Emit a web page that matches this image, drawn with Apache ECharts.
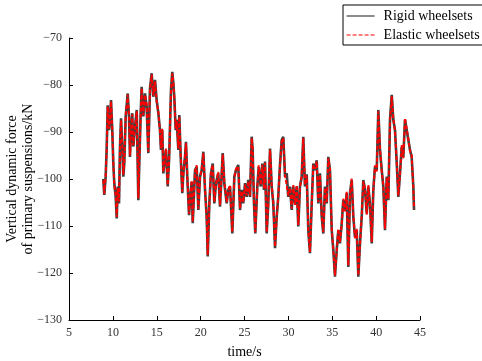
<!DOCTYPE html>
<html>
<head>
<meta charset="utf-8">
<script src="https://cdn.jsdelivr.net/npm/echarts@6/dist/echarts.min.js"></script>
<style>html,body{margin:0;padding:0;background:#fff}#c{width:482px;height:361px}</style>
</head>
<body>
<div id="c"></div>
<script>
const seriesNames = ["Rigid wheelsets", "Elastic wheelsets"];
const xTicks = [5, 10, 15, 20, 25, 30, 35, 40, 45];
const yTicks = [-130, -120, -110, -100, -90, -80, -70];
const time = [8.91,9.02,9.18,9.30,9.41,9.56,9.67,9.79,9.93,10.05,10.16,10.32,10.44,10.55,10.70,10.81,10.93,11.07,11.19,11.30,11.46,11.69,11.84,11.95,12.07,12.21,12.33,12.52,12.72,12.90,13.01,13.17,13.28,13.47,13.66,13.85,14.04,14.23,14.42,14.61,14.80,14.99,15.18,15.37,15.48,15.63,15.75,15.86,16.05,16.25,16.40,16.51,16.62,16.77,16.89,17.00,17.16,17.27,17.46,17.57,17.73,17.91,18.03,18.22,18.33,18.48,18.68,18.79,18.98,19.10,19.36,19.55,19.74,19.93,20.12,20.31,20.50,20.69,20.81,20.99,21.18,21.38,21.56,21.75,22.01,22.21,22.52,22.70,22.97,23.15,23.35,23.61,23.84,24.03,24.29,24.49,24.68,24.86,25.06,25.25,25.43,25.63,25.82,25.93,26.08,26.23,26.46,26.62,26.85,27.03,27.22,27.34,27.53,27.71,27.91,28.10,28.28,28.48,28.67,28.85,29.05,29.24,29.42,29.62,29.81,29.99,30.19,30.38,30.56,30.76,30.95,31.13,31.32,31.52,31.70,31.89,32.09,32.27,32.46,32.66,32.84,33.03,33.23,33.41,33.60,33.80,33.98,34.17,34.37,34.55,34.74,34.94,35.12,35.31,35.51,35.69,35.88,36.08,36.26,36.45,36.65,36.83,37.02,37.22,37.40,37.59,37.79,37.97,38.16,38.36,38.54,38.73,38.93,39.11,39.30,39.50,39.68,39.87,40.07,40.25,40.44,40.64,40.82,41.01,41.21,41.39,41.58,41.78,41.96,42.15,42.35,42.53,42.72,42.92,43.10,43.29,43.48,43.67,43.86,44.05,44.24,44.32];
const rigid = [-100.0,-103.4,-99.5,-93.1,-84.3,-89.6,-87.4,-83.2,-89.6,-96.7,-100.9,-103.8,-108.4,-101.6,-105.2,-93.1,-87.1,-93.1,-99.5,-96.7,-86.7,-81.8,-86.7,-95.3,-89.6,-86.0,-93.1,-88.9,-85.3,-104.5,-96.7,-86.0,-80.4,-86.7,-81.8,-84.6,-94.5,-80.7,-77.5,-82.5,-78.9,-83.2,-86.0,-89.6,-93.8,-89.6,-98.8,-96.7,-93.8,-101.6,-96.0,-88.9,-81.1,-77.2,-79.6,-82.5,-89.6,-87.4,-93.8,-86.4,-95.3,-103.0,-98.8,-95.3,-92.1,-99.5,-107.7,-104.5,-100.6,-109.4,-98.1,-97.4,-106.6,-99.5,-98.1,-94.2,-102.3,-108.0,-116.5,-105.2,-98.8,-96.7,-105.2,-100.9,-98.8,-105.9,-94.5,-100.9,-105.2,-102.3,-101.6,-111.6,-99.5,-98.1,-97.0,-106.6,-102.3,-105.2,-100.9,-103.8,-100.2,-103.8,-91.0,-93.8,-105.2,-111.6,-101.6,-97.4,-101.6,-96.7,-102.3,-96.3,-111.6,-105.2,-93.5,-101.6,-105.2,-114.7,-108.0,-103.8,-96.7,-91.7,-91.0,-99.5,-98.8,-103.8,-101.6,-106.6,-101.6,-105.2,-101.6,-110.1,-101.6,-99.5,-91.0,-101.6,-99.0,-110.9,-115.8,-105.2,-96.7,-98.1,-96.0,-105.2,-98.8,-108.0,-111.6,-101.6,-105.2,-95.3,-98.1,-110.9,-115.1,-120.8,-115.1,-110.9,-113.7,-109.4,-104.5,-106.6,-103.0,-118.7,-103.0,-100.2,-108.0,-112.3,-110.9,-120.8,-113.7,-108.0,-100.2,-102.3,-107.3,-101.6,-105.2,-113.7,-102.3,-97.4,-98.1,-85.3,-93.8,-98.1,-101.6,-110.9,-99.5,-104.5,-87.4,-82.1,-87.4,-89.6,-96.7,-103.8,-98.8,-93.1,-95.3,-87.4,-87.1,-91.7,-93.8,-95.3,-101.6,-106.6];
const elastic = [-100.3,-103.1,-99.2,-93.5,-84.6,-89.3,-87.8,-83.5,-89.2,-96.4,-101.2,-103.5,-108.1,-101.9,-104.8,-93.4,-87.5,-92.8,-99.1,-96.9,-86.4,-82.1,-86.3,-95.0,-89.9,-86.3,-92.8,-89.2,-85.6,-104.1,-96.4,-86.3,-80.7,-86.4,-82.1,-84.3,-94.2,-81.0,-77.8,-82.2,-79.2,-83.5,-85.7,-89.9,-93.5,-89.3,-98.5,-97.0,-93.5,-101.3,-96.3,-88.6,-81.4,-77.5,-79.3,-82.8,-89.3,-87.7,-93.5,-86.7,-95.0,-102.7,-99.1,-95.0,-92.4,-99.2,-107.4,-104.8,-100.3,-109.1,-98.4,-97.1,-106.3,-99.8,-97.8,-94.5,-102.0,-108.3,-116.2,-105.5,-98.5,-97.0,-104.9,-101.2,-98.5,-105.6,-94.8,-100.6,-104.9,-102.6,-101.3,-111.3,-99.8,-97.8,-97.3,-106.3,-102.6,-104.9,-101.2,-103.5,-100.5,-103.5,-91.3,-93.5,-104.9,-111.3,-101.9,-97.1,-101.3,-97.0,-102.0,-96.6,-111.3,-105.5,-93.8,-101.3,-104.9,-114.4,-108.3,-103.5,-97.0,-92.0,-91.3,-99.2,-99.1,-103.5,-101.9,-106.3,-101.3,-105.5,-101.3,-109.8,-101.9,-99.2,-91.3,-101.3,-99.3,-110.6,-115.5,-105.5,-97.0,-97.8,-96.3,-104.9,-99.1,-107.7,-111.3,-101.9,-104.9,-95.6,-97.8,-110.6,-114.8,-120.5,-115.4,-110.6,-113.4,-109.7,-104.2,-106.9,-102.7,-118.4,-103.3,-99.9,-107.7,-112.6,-110.6,-120.5,-114.0,-107.7,-100.5,-102.0,-107.6,-101.3,-105.5,-113.4,-102.6,-97.1,-98.4,-85.6,-93.5,-98.4,-101.3,-110.6,-99.8,-104.2,-87.7,-82.4,-87.1,-89.9,-96.4,-103.5,-99.1,-92.8,-95.6,-87.1,-87.4,-91.4,-94.1,-95.0,-101.9,-106.3];

const rigidData = time.map((t, i) => [t, rigid[i]]);
const elasticData = time.map((t, i) => [t, elastic[i]]);
const FONT = "'Liberation Serif', 'DejaVu Serif', serif";
const minusFmt = v => String(v).replace('-', '\u2212');

const chart = echarts.init(document.getElementById('c'), null, {renderer: 'canvas'});
chart.setOption({
  animation: false,
  backgroundColor: '#fff',
  grid: {left: 69, right: 62, top: 38, bottom: 41, containLabel: false, outerBoundsMode: 'none'},
  legend: {
    orient: 'vertical', left: 343, top: 5,
    padding: [4, 30, 3, 3],
    backgroundColor: '#fff',
    borderColor: '#000', borderWidth: 1,
    itemWidth: 28, itemHeight: 14, itemGap: 5,
    itemStyle: {opacity: 0},
    lineStyle: {width: 1.2},
    textStyle: {fontFamily: FONT, fontSize: 14, color: '#000', padding: [0, 0, 0, 4]},
    data: seriesNames
  },
  xAxis: {
    type: 'value', min: xTicks[0], max: xTicks[xTicks.length - 1], interval: 5,
    name: 'time/s', nameLocation: 'middle', nameGap: 25, nameMoveOverlap: false,
    nameTextStyle: {fontFamily: FONT, fontSize: 14, color: '#000'},
    axisLine: {show: true, lineStyle: {color: '#000', width: 1}},
    axisTick: {show: true, inside: true, length: 4, lineStyle: {color: '#000'}},
    axisLabel: {fontFamily: FONT, fontSize: 12, color: '#333', margin: 7},
    splitLine: {show: false}
  },
  yAxis: {
    type: 'value', min: yTicks[0], max: yTicks[yTicks.length - 1], interval: 10,
    name: 'Vertical dynamic force\nof primary suspensions/kN', nameLocation: 'middle', nameGap: 33,
    nameMoveOverlap: false,
    nameRotate: 90,
    nameTextStyle: {fontFamily: FONT, fontSize: 14, color: '#000', lineHeight: 16},
    axisLine: {show: true, lineStyle: {color: '#000', width: 1}},
    axisTick: {show: true, inside: true, length: 4, lineStyle: {color: '#000'}},
    axisLabel: {fontFamily: FONT, fontSize: 12, color: '#333', margin: 7, formatter: minusFmt},
    splitLine: {show: false}
  },
  series: [
    {
      name: seriesNames[0], type: 'line', data: rigidData, showSymbol: false, symbol: 'none',
      sampling: 'none', lineStyle: {color: '#404040', width: 2.6}, itemStyle: {color: '#404040'}
    },
    {
      name: seriesNames[1], type: 'line', data: elasticData, showSymbol: false, symbol: 'none',
      sampling: 'none', lineStyle: {color: '#ff0000', width: 2, type: [4, 2]}, itemStyle: {color: '#ff0000'}
    }
  ]
});
</script>
</body>
</html>
